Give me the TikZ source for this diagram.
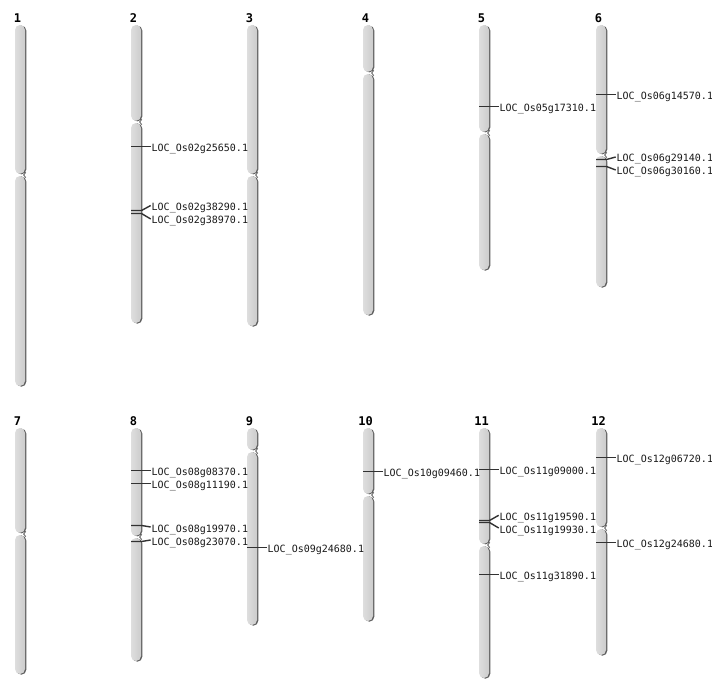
\documentclass[tikz,border=0pt]{standalone}
\usepackage{fontspec}
\newfontfamily\monof{DejaVu Sans Mono}
\definecolor{chrfill}{RGB}{212,212,212}
\definecolor{chrlight}{RGB}{222,222,222}
\definecolor{chrdark}{RGB}{204,204,204}
\definecolor{chredge}{RGB}{95,95,95}
\definecolor{mkcol}{RGB}{50,50,50}
\tikzset{
  numlab/.style={font=\monof\bfseries\fontsize{12}{14}\selectfont, inner sep=0pt, text height=8.7pt, text depth=0pt, anchor=center},
  loclab/.style={font=\monof\fontsize{10}{12}\selectfont, inner sep=0pt, text height=10pt, text depth=0pt, anchor=west, text=black!90},
  mkline/.style={draw=mkcol, line width=1.4pt},
  armbody/.style={left color=chrlight, right color=chrdark, rounded corners=5pt},
  armshadow/.style={fill=chredge, rounded corners=5pt},
  notch/.style={draw=chredge, line width=0.8pt}
}
% #1 name, #2 left x, #3 top, #4 centromere, #5 bottom, #6 number
\newcommand\chromo[6]{%
  \fill[armshadow] (#2+1.4,#3+0.6) rectangle (#2+11.3,#4-0.6);
  \fill[armshadow] (#2+1.4,#4+1.4) rectangle (#2+11.3,#5+0.7);
  \shade[armbody] (#2,#3) rectangle (#2+10,#4-1.2);
  \shade[armbody] (#2,#4+1) rectangle (#2+10,#5);
  \draw[notch] (#2+10.8,#4-2.6) -- (#2+8.6,#4) -- (#2+10.8,#4+2.6);
  \coordinate (c#1) at (#2,#3);
  \node[numlab] (n#1) at (#2+2.5,#3-7) {#6};
}
% #1 name, #2 chromosome left x, #3 marker y, #4 label y, #5 text
\newcommand\mk[5]{%
  \coordinate (m#1) at (#2,#3);
  \node[loclab] (l#1) at (#2+20.5,#4) {#5};
  \draw[mkline] (m#1) -- ++(10.5,0) -- ([xshift=-0.8pt]l#1.west);
}
\begin{document}
\begin{tikzpicture}[x=1pt,y=-1pt]
\useasboundingbox (0,0) rectangle (712,700);
\fill[white] (0,0) rectangle (712,700);
% row 1
\chromo{1}{15}{25}{175}{386}{1}
\chromo{2}{131}{25}{122}{323}{2}
\chromo{3}{247}{25}{175}{326}{3}
\chromo{4}{363}{25}{73}{315}{4}
\chromo{5}{479}{25}{133}{270}{5}
\chromo{6}{596}{25}{155}{287}{6}
% row 2
\chromo{7}{15}{428}{534}{674}{7}
\chromo{8}{131}{428}{537}{661}{8}
\chromo{9}{247}{428}{451}{625}{9}
\chromo{10}{363}{428}{495}{621}{10}
\chromo{11}{479}{428}{545}{678}{11}
\chromo{12}{596}{428}{528}{655}{12}
% markers
\mk{a}{131}{146.5}{146.5}{LOC\_Os02g25650.1}
\mk{b}{131}{210.5}{205.5}{LOC\_Os02g38290.1}
\mk{c}{131}{213.5}{219}{LOC\_Os02g38970.1}
\mk{d}{479}{106.5}{106.5}{LOC\_Os05g17310.1}
\mk{e}{596}{94.5}{94.5}{LOC\_Os06g14570.1}
\mk{f}{596}{159.5}{157}{LOC\_Os06g29140.1}
\mk{g}{596}{166.5}{170}{LOC\_Os06g30160.1}
\mk{h}{131}{470.5}{470.5}{LOC\_Os08g08370.1}
\mk{i}{131}{483.5}{483.5}{LOC\_Os08g11190.1}
\mk{j}{131}{525.5}{527}{LOC\_Os08g19970.1}
\mk{k}{131}{541.5}{540}{LOC\_Os08g23070.1}
\mk{l}{247}{547.5}{547.5}{LOC\_Os09g24680.1}
\mk{m}{363}{471.5}{471.5}{LOC\_Os10g09460.1}
\mk{n}{479}{469.5}{469.5}{LOC\_Os11g09000.1}
\mk{o}{479}{520.5}{515.3}{LOC\_Os11g19590.1}
\mk{p}{479}{522.5}{528}{LOC\_Os11g19930.1}
\mk{q}{479}{574.5}{574.5}{LOC\_Os11g31890.1}
\mk{r}{596}{457.5}{457.5}{LOC\_Os12g06720.1}
\mk{s}{596}{542.5}{542.5}{LOC\_Os12g24680.1}
\end{tikzpicture}
\end{document}
